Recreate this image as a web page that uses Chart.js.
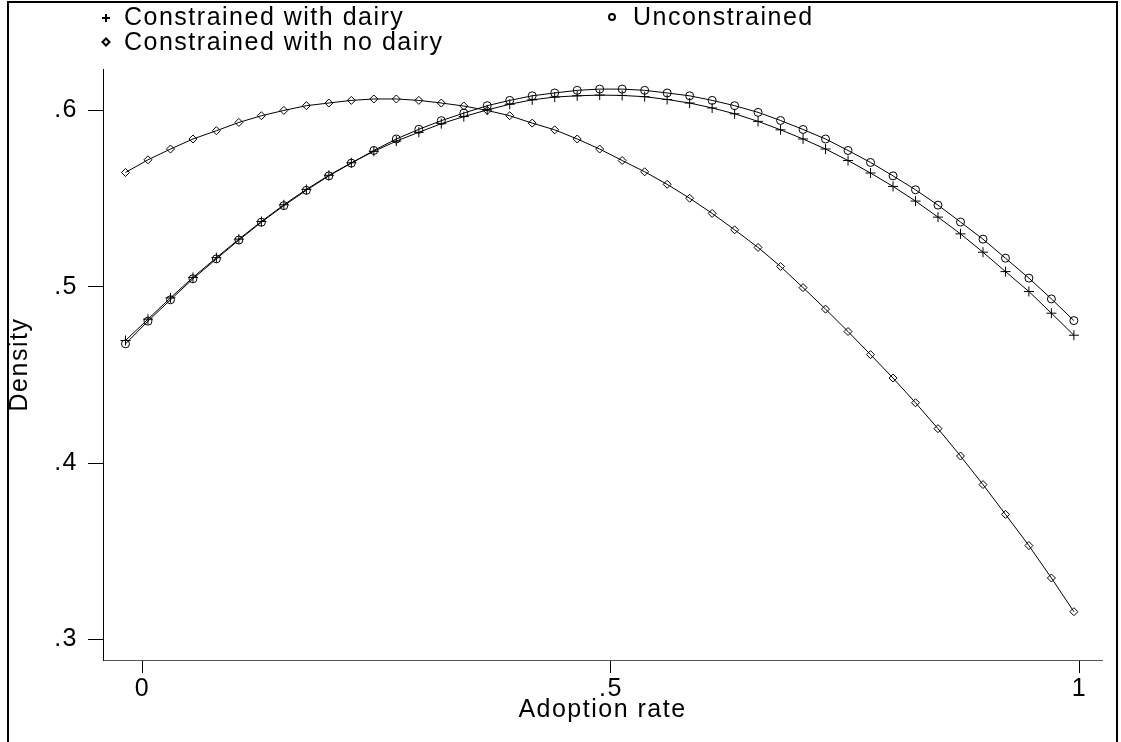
<!DOCTYPE html>
<html>
<head>
<meta charset="utf-8">
<script src="https://cdn.jsdelivr.net/npm/chart.js@4"></script>
<style>
  html, body { margin: 0; padding: 0; background: #fff; }
  #kutu { width: 1121px; height: 742px; }
</style>
</head>
<body>
<div id="kutu"><canvas id="yogunluk" width="1121" height="742"></canvas></div>
<script>
// Benimseme oranı (x ekseni)
const adoptionRate = [
  -0.018, 0.006, 0.030, 0.054, 0.079, 0.103, 0.127, 0.151, 0.175, 0.199,
  0.223, 0.247, 0.271, 0.295, 0.319, 0.343, 0.368, 0.392, 0.416, 0.440,
  0.464, 0.488, 0.512, 0.536, 0.560, 0.584, 0.608, 0.632, 0.657, 0.681,
  0.705, 0.729, 0.753, 0.777, 0.801, 0.825, 0.849, 0.873, 0.897, 0.921,
  0.946, 0.970, 0.994,
];

// Yoğunluk serileri
const withDairy = [
  0.4695, 0.4816, 0.4937, 0.5053, 0.5165, 0.527, 0.537, 0.5465, 0.5552, 0.5632,
  0.5703, 0.5768, 0.5826, 0.5876, 0.5925, 0.5965, 0.6003, 0.6035, 0.606, 0.6076,
  0.6083, 0.6087, 0.6085, 0.6078, 0.6062, 0.6042, 0.6014, 0.5981, 0.5938, 0.589,
  0.5838, 0.5781, 0.5716, 0.5645, 0.5569, 0.5486, 0.5395, 0.53, 0.5196, 0.5086,
  0.4973, 0.485, 0.4725,
];

const unconstrained = [
  0.4676, 0.4805, 0.4926, 0.5045, 0.5158, 0.5265, 0.5366, 0.546, 0.5547, 0.5629,
  0.5701, 0.5773, 0.5838, 0.5893, 0.5942, 0.5985, 0.6027, 0.6057, 0.6083, 0.6099,
  0.6114, 0.6121, 0.6121, 0.6114, 0.6099, 0.6083, 0.6057, 0.6027, 0.5989, 0.5943,
  0.5892, 0.5838, 0.5773, 0.5705, 0.5629, 0.555, 0.5463, 0.5367, 0.527, 0.5162,
  0.5049, 0.4931, 0.4808,
];

const noDairy = [
  0.5648, 0.572, 0.5781, 0.5838, 0.5885, 0.5932, 0.597, 0.6, 0.6027, 0.6042,
  0.6057, 0.6065, 0.6065, 0.6057, 0.6042, 0.6025, 0.6, 0.597, 0.5928, 0.589,
  0.5838, 0.5781, 0.5716, 0.5652, 0.5581, 0.5502, 0.5416, 0.5323, 0.5223, 0.5115,
  0.4995, 0.4873, 0.4746, 0.4615, 0.4482, 0.4342, 0.4195, 0.404, 0.3878, 0.3709,
  0.3532, 0.3348, 0.3157,
];

// Eksen işaretleri
const xTickValues = [0, 0.5, 1];
const xTickLabels = ["0", ".5", "1"];
const yTickValues = [0.3, 0.4, 0.5, 0.6];
const yTickLabels = [".3", ".4", ".5", ".6"];

const yaziTipi = "'Liberation Sans', Arial, sans-serif";
const yaziBoyu = 25;
const harfAraligi = "1.5px";

function noktalar(seri) {
  return seri.map((y, i) => ({ x: adoptionRate[i], y: y }));
}

// Çerçeve ve el yapımı lejant
const cerceve = {
  id: "cerceve",
  beforeDraw(chart) {
    chart.ctx.letterSpacing = harfAraligi;
  },
  afterDraw(chart) {
    const ctx = chart.ctx;
    ctx.save();
    ctx.strokeStyle = "#000";
    ctx.lineWidth = 2;
    ctx.beginPath();
    ctx.moveTo(8, 745);
    ctx.lineTo(8, 2);
    ctx.lineTo(1117, 2);
    ctx.lineTo(1117, 745);
    ctx.stroke();

    // lejant yerleşimi: [x işaret, y işaret, x metin, y taban çizgisi, boyut]
    const yerler = [
      [106, 18, 124, 25, 4],
      [612, 17, 633, 25, 3],
      [106, 42, 124, 50, 3.5],
    ];
    ctx.font = yaziBoyu + "px " + yaziTipi;
    ctx.letterSpacing = harfAraligi;
    ctx.textBaseline = "alphabetic";
    chart.data.datasets.forEach((ds, i) => {
      const [mx, my, tx, ty, r] = yerler[i];
      ctx.strokeStyle = "#000";
      ctx.fillStyle = "rgba(0,0,0,0)";
      Chart.helpers.drawPoint(
        ctx,
        { pointStyle: ds.pointStyle, radius: r, rotation: 0, borderWidth: 1 },
        mx,
        my
      );
      ctx.fillStyle = "#000";
      ctx.fillText(ds.label, tx, ty);
    });
    ctx.restore();
  },
};

const ctx = document.getElementById("yogunluk").getContext("2d");
ctx.letterSpacing = harfAraligi;

new Chart(ctx, {
  type: "line",
  data: {
    datasets: [
      {
        label: "Constrained with dairy",
        data: noktalar(withDairy),
        pointStyle: "cross",
        pointRadius: 5,
      },
      {
        label: "Unconstrained",
        data: noktalar(unconstrained),
        pointStyle: "circle",
        pointRadius: 4,
      },
      {
        label: "Constrained with no dairy",
        data: noktalar(noDairy),
        pointStyle: "rectRot",
        pointRadius: 4,
      },
    ].map((d) => ({
      ...d,
      borderColor: "#000",
      borderWidth: 1,
      pointBorderColor: "#000",
      pointBorderWidth: 1,
      pointBackgroundColor: "rgba(0,0,0,0)",
      pointHoverRadius: d.pointRadius,
      tension: 0,
      fill: false,
    })),
  },
  options: {
    responsive: false,
    animation: false,
    devicePixelRatio: 1,
    layout: { padding: { top: 69, right: 19, bottom: 0, left: 0 } },
    plugins: {
      legend: { display: false },
      tooltip: { enabled: false },
      title: { display: false },
    },
    scales: {
      x: {
        type: "linear",
        min: -0.042,
        max: 1.024,
        afterBuildTicks: (s) => {
          s.ticks = xTickValues.map((v) => ({ value: v }));
        },
        afterFit: (s) => {
          s.height = 82;
        },
        ticks: {
          callback: (v, i) => xTickLabels[i],
          font: { family: yaziTipi, size: yaziBoyu },
          color: "#000",
          padding: 1,
          maxRotation: 0,
          autoSkip: false,
        },
        grid: {
          drawOnChartArea: false,
          drawTicks: true,
          tickLength: 13,
          color: "#000",
        },
        border: { display: true, color: "#555", width: 1 },
        title: {
          display: true,
          text: "Adoption rate",
          color: "#000",
          font: { family: yaziTipi, size: yaziBoyu },
          padding: { top: 0, bottom: 17 },
        },
      },
      y: {
        type: "linear",
        min: 0.2883,
        max: 0.6235,
        afterBuildTicks: (s) => {
          s.ticks = yTickValues.map((v) => ({ value: v }));
        },
        afterFit: (s) => {
          s.width = 103;
        },
        ticks: {
          callback: (v, i) => yTickLabels[i],
          font: { family: yaziTipi, size: yaziBoyu },
          color: "#000",
          padding: 10,
          autoSkip: false,
        },
        grid: {
          drawOnChartArea: false,
          drawTicks: true,
          tickLength: 15,
          color: "#000",
        },
        border: { display: true, color: "#000", width: 1 },
        title: {
          display: true,
          text: "Density",
          color: "#000",
          font: { family: yaziTipi, size: yaziBoyu },
          padding: { top: 5, bottom: 0 },
        },
      },
    },
  },
  plugins: [cerceve],
});
</script>
</body>
</html>
